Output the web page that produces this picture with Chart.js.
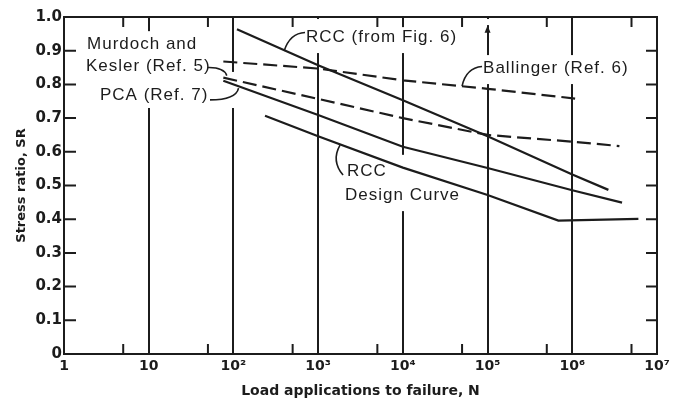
<!DOCTYPE html>
<html>
<head>
<meta charset="utf-8">
<script src="https://cdn.jsdelivr.net/npm/chart.js@4.4.1/dist/chart.umd.min.js"></script>
<style>
  html, body { margin: 0; padding: 0; background: #ffffff; }
  #wrap { width: 680px; height: 400px; position: relative; }
</style>
</head>
<body>
<div id="wrap"><canvas id="c"></canvas></div>
<script>
// ---------- data ----------
const xTickValues = [1, 10, 1e2, 1e3, 1e4, 1e5, 1e6, 1e7];
const xTickLabels = ['1', '10', '10²', '10³', '10⁴', '10⁵', '10⁶', '10⁷'];
const xMinorTicks = [5, 50, 500, 5e3, 5e4, 5e5, 5e6];
const yTickValues = [0, 0.1, 0.2, 0.3, 0.4, 0.5, 0.6, 0.7, 0.8, 0.9, 1.0];
const yTickLabels = ['0', '0.1', '0.2', '0.3', '0.4', '0.5', '0.6', '0.7', '0.8', '0.9', '1.0'];

const seriesNames = ['RCC (from Fig. 6)', 'Ballinger (Ref. 6)', 'Murdoch and Kesler (Ref. 5)', 'PCA (Ref. 7)', 'RCC Design Curve'];

const rccFig6N  = [110, 1e3, 1e4, 1e5, 1e6, 2.67e6];
const rccFig6SR = [0.964, 0.857, 0.753, 0.646, 0.533, 0.487];

const ballingerN  = [76, 1e3, 1e4, 1e5, 1.08e6];
const ballingerSR = [0.868, 0.847, 0.812, 0.787, 0.758];

const murdochN  = [76, 1e3, 1e4, 1e5, 1e6, 3.6e6];
const murdochSR = [0.820, 0.757, 0.700, 0.650, 0.630, 0.617];

const pcaN  = [76, 1e3, 1e4, 1e5, 1e6, 3.87e6];
const pcaSR = [0.811, 0.709, 0.615, 0.552, 0.486, 0.449];

const designN  = [236, 1e3, 1e4, 1e5, 6.85e5, 6.03e6];
const designSR = [0.707, 0.646, 0.553, 0.472, 0.396, 0.401];

// ---------- styling / annotations ----------
const ink = '#1c1c1c';
const labelFont = '17px "Liberation Sans", Arial, sans-serif';

const pts = (ns, srs) => ns.map((n, i) => ({ x: n, y: srs[i] }));

// text labels anchored in data coordinates (left edge, vertical middle)
const textLabels = [
  { t: 'RCC (from Fig. 6)', n: 719, sr: 0.941 },
  { t: 'Murdoch and', n: 1.87, sr: 0.919 },
  { t: 'Kesler (Ref. 5)', n: 1.82, sr: 0.8525 },
  { t: 'PCA (Ref. 7)', n: 2.66, sr: 0.7685 },
  { t: 'Ballinger (Ref. 6)', n: 88500, sr: 0.848 },
  { t: 'RCC', n: 2193, sr: 0.541 },
  { t: 'Design Curve', n: 2078, sr: 0.470 }
];

// leader curves: start, control, end (data coords)
const leaders = [
  [[700, 0.954], [466, 0.9525], [396, 0.899]],
  [[86100, 0.853], [55700, 0.849], [50000, 0.795]],
  [[50.1, 0.850], [77, 0.851], [83.5, 0.826]],
  [[52.9, 0.754], [107.4, 0.754], [114.9, 0.789]],
  [[1968, 0.531], [1419, 0.573], [1812, 0.620]]
];

// white areas behind labels that interrupt the grid lines: [n1, n2, sr1, sr2]
const gridMasks = [
  [1.545, 60.6, 0.958, 0.730],
  [79.6, 119.6, 0.837, 0.730],
  [548, 4100, 0.994, 0.893],
  [4100, 62100, 0.970, 0.893],
  [69300, 5.66e6, 0.887, 0.801],
  [86100, 1.07e5, 0.994, 0.976],
  [1627, 62100, 0.591, 0.424]
];

const decoPlugin = {
  id: 'deco',
  beforeDatasetsDraw(chart) {
    const { ctx, scales: { x, y } } = chart;
    ctx.save();
    ctx.fillStyle = '#ffffff';
    gridMasks.forEach(m => {
      const x1 = x.getPixelForValue(m[0]), x2 = x.getPixelForValue(m[1]);
      const y1 = y.getPixelForValue(m[2]), y2 = y.getPixelForValue(m[3]);
      ctx.fillRect(x1, y1, x2 - x1, y2 - y1);
    });
    // labels
    ctx.fillStyle = ink;
    ctx.font = labelFont;
    try { ctx.letterSpacing = '1px'; } catch (e) {}
    ctx.textAlign = 'left';
    ctx.textBaseline = 'middle';
    textLabels.forEach(l => {
      ctx.fillText(l.t, x.getPixelForValue(l.n), y.getPixelForValue(l.sr));
    });
    try { ctx.letterSpacing = '0px'; } catch (e) {}
    // leaders
    ctx.strokeStyle = ink;
    ctx.lineWidth = 1.6;
    leaders.forEach(L => {
      ctx.beginPath();
      ctx.moveTo(x.getPixelForValue(L[0][0]), y.getPixelForValue(L[0][1]));
      ctx.quadraticCurveTo(x.getPixelForValue(L[1][0]), y.getPixelForValue(L[1][1]),
                           x.getPixelForValue(L[2][0]), y.getPixelForValue(L[2][1]));
      ctx.stroke();
    });
    // small arrowhead on the 10^5 line
    const ax = x.getPixelForValue(1e5);
    const at = y.getPixelForValue(0.975), ab = y.getPixelForValue(0.953);
    ctx.beginPath();
    ctx.moveTo(ax, at); ctx.lineTo(ax - 3, ab); ctx.lineTo(ax + 3, ab); ctx.closePath();
    ctx.fill();
    ctx.restore();
  },
  afterDatasetsDraw(chart) {
    const { ctx, chartArea: a, scales: { x, y } } = chart;
    ctx.save();
    ctx.strokeStyle = ink;
    ctx.lineWidth = 2;
    ctx.lineCap = 'butt';
    ctx.strokeRect(a.left, a.top, a.right - a.left, a.bottom - a.top);
    ctx.beginPath();
    yTickValues.forEach(v => {
      if (v <= 0 || v >= 1) return;
      const py = y.getPixelForValue(v);
      ctx.moveTo(a.left, py); ctx.lineTo(a.left + 12, py);
      ctx.moveTo(a.right - 11, py); ctx.lineTo(a.right, py);
    });
    xMinorTicks.forEach(v => {
      const px = x.getPixelForValue(v);
      ctx.moveTo(px, a.bottom); ctx.lineTo(px, a.bottom - 10);
      ctx.moveTo(px, a.top); ctx.lineTo(px, a.top + 10);
    });
    ctx.stroke();
    ctx.restore();
  }
};

const solid = [];
const dashed = [14, 6];
const mk = (label, data, dash) => ({
  label, data, borderColor: ink, borderWidth: 2.2, borderDash: dash,
  borderCapStyle: 'butt', pointRadius: 0, fill: false, tension: 0
});

new Chart(document.getElementById('c'), {
  type: 'line',
  data: {
    datasets: [
      mk(seriesNames[0], pts(rccFig6N, rccFig6SR), solid),
      mk(seriesNames[1], pts(ballingerN, ballingerSR), dashed),
      mk(seriesNames[2], pts(murdochN, murdochSR), dashed),
      mk(seriesNames[3], pts(pcaN, pcaSR), solid),
      mk(seriesNames[4], pts(designN, designSR), solid)
    ]
  },
  options: {
    responsive: true,
    maintainAspectRatio: false,
    animation: false,
    events: [],
    layout: { padding: { top: 17, right: 23, left: 0, bottom: 0 } },
    plugins: { legend: { display: false }, tooltip: { enabled: false } },
    scales: {
      x: {
        type: 'logarithmic',
        min: 1, max: 1e7,
        afterBuildTicks: s => { s.ticks = xTickValues.map(v => ({ value: v })); },
        afterFit: s => { s.height = 46; },
        grid: { color: ink, lineWidth: 2, drawTicks: false },
        border: { display: false },
        ticks: {
          autoSkip: false, maxRotation: 0, minRotation: 0, padding: 4,
          color: ink,
          font: { family: '"DejaVu Sans", sans-serif', size: 14, weight: 'bold' },
          callback: (v, i) => xTickLabels[i]
        },
        title: {
          display: true,
          text: 'Load applications to failure, N',
          color: ink,
          font: { family: '"DejaVu Sans", sans-serif', size: 14, weight: 'bold' },
          padding: { top: 0, bottom: 0 }
        }
      },
      y: {
        min: 0, max: 1,
        afterBuildTicks: s => { s.ticks = yTickValues.map(v => ({ value: v })); },
        afterFit: s => { s.width = 64; },
        grid: { display: false, drawTicks: false },
        border: { display: false },
        ticks: {
          padding: 2,
          color: ink,
          font: { family: '"DejaVu Sans", sans-serif', size: 15, weight: 'bold' },
          callback: (v, i) => yTickLabels[i]
        },
        title: {
          display: true,
          text: 'Stress ratio, SR',
          color: ink,
          font: { family: '"DejaVu Sans", sans-serif', size: 13, weight: 'bold' },
          padding: { top: 14, bottom: 0 }
        }
      }
    }
  },
  plugins: [decoPlugin]
});
</script>
</body>
</html>
